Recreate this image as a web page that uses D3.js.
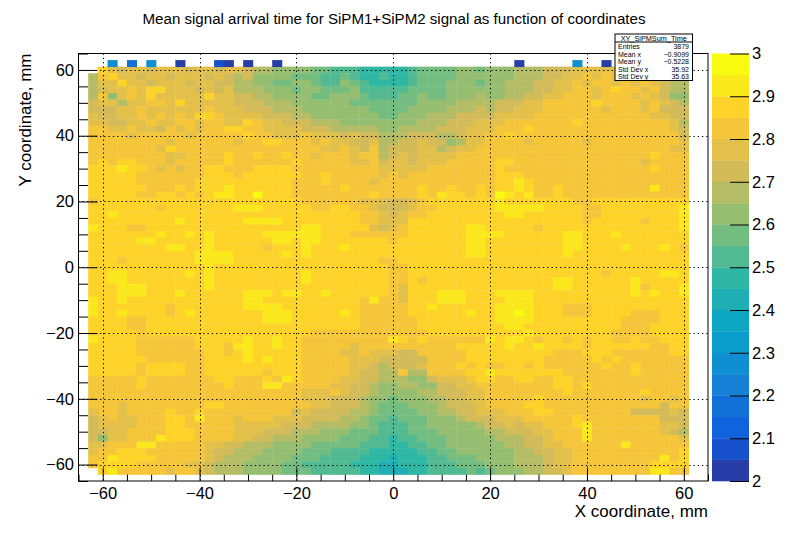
<!DOCTYPE html>
<html>
<head>
<meta charset="utf-8">
<script src="https://cdn.jsdelivr.net/npm/d3@7"></script>
<style>
  body { margin: 0; background: #fff; }
  text { font-family: "Liberation Sans", Arial, Helvetica, sans-serif; fill: #000; }
</style>
</head>
<body>
<script>
// ---- histogram data ----
var histName = "XY_SiPMSum_Time";
var statLabels = ["Entries", "Mean x", "Mean y", "Std Dev x", "Std Dev y"];
var statValues = ["3879", "\u22120.9099", "\u22120.5228", "35.92", "35.63"];

var xTicks = [-60, -40, -20, 0, 20, 40, 60];
var yTicks = [-60, -40, -20, 0, 20, 40, 60];
var zTicks = [2, 2.1, 2.2, 2.3, 2.4, 2.5, 2.6, 2.7, 2.8, 2.9, 3];

// binning of the histogram (2 mm bins, first bin centre / last row centre)
var binSize = 2;
var xFirstBin = -62;
var yFirstBin = 60;
var zMin = 2, zMax = 3, zStep = 0.05;

// each letter = colour band (a = 2.00-2.05 ... t = 2.95-3.00), "." = empty bin
var bandCodes = "abcdefghijklmnopqrst";

// y = 60 ... 22
var topRows = [
  ".rpoppopppoppoppo nnmm mmll kkk jjj | jjk llll mmlm mmn nnooo pppppqpppppo",
  "nqrppoppopppopono mmmm lllk klkjjk | jjk llll mmmm mmn nnoop pqpqppqpppop",
  "npprppopppoppoonnmmllmmlkkmlkjj | jjklllmmmlmmnnnooppqpqqpqpqponn",
  "noppqprr pppopop nnnmmm lmmlllm kkk | kk llll mmmmmm nnn oo pp qq p q r qq p q o nn",
  "nqmpqpr ppppp rppoo nnmmmm llmmm lkk | kllmll mmmnmm nnoo ppqqq pqqq pqpomm",
  "oppnppqqpr ppppp ooonnn mmmmmm llll | lllmmmm nnnn ooo ppqqqqq rqqqq pqpon",
  "oooppqpppppp qppp ooonnn mmmmmmm ll | llmmmm nnnonoo ppp qqqqqq pqqq pq ooo",
  "pooppqpqpq prrq pppp ooonn mmmmmmm l | lmmm nnn oooo pppp qqqqqqqqqqqq ppoo",
  "ppooppqppqq pqqpp rqpp ooo nnn mmmmm | mmm nnn ooo ppp qqqqqqq r qqqqqqqqq pn",
  "qqppqppoqpqp qqrrqq pppp ooo nnnnn m | mnnnnooopppqqqr qqqqqqqqqqqqqq po",
  "qqqqpqqqqqp qqqqqrqq pppqppp opoon | nnooonnoppqqr qqqqqqqqqqqqqqqqq o",
  "qqqqqqqq p qqqqqq p qq rr qqq p q pp oo p n | noopoomnpp qqqq p qqqqq p qqqqqqqqq p",
  "qqqqqqqpr qqqqqqqqqqqqqqq ppqpoqn | oooppnopp qqqqqqqqqqqqqqqqqqqq pp",
  "qqqqqqqq pp qqqq r qq r qq r qq p qqq p qq n | opopppp qqqqqqqqqqqqqqqqqqqq rqqq",
  "qrqrr qqqp qqqqq r qqqqqq r qqqqq ppqo | ppopppqqqqqrr qqqqqqqqqqqqq pqqqq",
  "rrrsrrqpqpqqrrqqqrrrr qqqqqqqqq p | pppp qqqqqqq r qqqqqqqqqqqqqqq rqqq",
  "rrrrr qqqqqqq rrrqrrrrrr qqr qqqqq p | qp qqqqqqqqq rrr qqqqqqqqqqqqqqqqq",
  "rrrrr qqqqqq rrrrrrrrrr qqqrqqqqpq | qqqqqqqqqqq rrsr qqqqqqqqqqqqqqqq",
  "rrrrrr qqq rqrrrs rrrrrr qqqqq rqqqq | qqqrqqrqqrqrrsrqqr qqqqqqqqq sqqq",
  "rrrrr qqrrqrqrssrrtrrr qqqqqqqq rq | qqqrqsrrqrqtsrs qqr qqqqqqqqqqqqq"
];

// y = 20 ... -20
var midRows = [
  "q rrrrrrr rrrrrrr rrrrrrr qqqqqq ppp | oopq rrrrrrr s rrrrrrr qq rrrrrrrrrr",
  "rrrrrrr q rrrrrrr sss rrrrr qq rr qq p o | oopqq rrrrrr sssss rrrr qq rrrrrrrr s",
  "rrs rrrrr rrrrr rrrrr rrrrr rrrrr qqp | opqq rrrrrrrr ss rrrrrr qq rrrrrrrr s",
  "rrrrrrrrr s rrrrrr ssss rrrrrrrr qqp | pp rrrrrrrrr rrrrrrrrr q rrrrr q rrr s",
  "srrrqq rrrrrrrr rrrrrrrr ss rrrrr po | pq rrrrrr ss rrrrr q rrrrrrr rrrrrrr s",
  "rrrrrrr s rr s r s rrrrr ssssss rrr qqqq | qq rrrrrr ssss rrrrrr ss rrr s rrrrrrr",
  "rrrrr ss rrrrr s rrrrrr ss r ss rrrrrrr | q rrrrrrr ss rrrrrrrr ss rrrrrrrrrrr",
  "rrrrrrrr ss rr s rrrrr q rrr s rrr s rrrr | rrrrrrrr ss rrrrrrrr ss rrrr s rrr s r q",
  "rrrrrrrrrrr ssss rrrrr s r s rrrrrrrr | rrrrrrrr ss rrrrrrrr s rrrrrrrrrrrr",
  "rrrq rrrrrrr ssss rrrrr rrrrr rrrrr q | q rrrrrrrrrr rrrrrrrrrr rrrrrrrrrr",
  "rrrrrrrrrrrr s rrrrrrrrr rrrrrrrrr | qq rrrrrrrrrr rrrrrrrrrr rrrrrrrrr",
  "rrss rrrrrr s r s rrrrrrrrr s rrrrrrrr | qq rrrrrrrrrr rrrrrrrrrr q rrrrr ss r",
  "rrss rrrrrrrr s rrrrrrrrr s rrrrrrrr | qqrq rrrrrrrrrrrrr ss rrrrrr s rrrrr",
  "rrrsss rrrrrr s rrrrrrrrr rrrrrrrrr | qp rrrrrrrrrrrrrrr ss rrrrrr s q rrr s",
  "rrrsss rrr s rrrrrr sss r ss rr s rrrrrr | qp rrr sss rrr ssss rrrrrrrrrr s r s rr s",
  "srrs rrrrrrrrrrrr ss rrrrrrrrrr qsq | qp rrr sss rrrr sss rrrrrrrr rrrrrrrr",
  "s rrrrrrr q rrrrrrr ssss rrrrrrrr qqq | qq rr s rrrrrr ssss rrr qqq rrrrrrrrrr",
  "srrs rrrr q r s rrrrrrr sss rrrrr s r qqq | qq rrrrrr s rr ssts rrr qqq rrrr qqq rrr",
  "rrrr qq rrrrrrrrrrrr sss rrrrrrr qqq | qqq rrrrrrrr ssss rrrrrrrrr qqqq rrr",
  "rrrr qq rrrrrrrrrrr rrrrrrrrrrr qqq | qqq rrrrrrrrr ss rrrrrrrrrr qqq rrrr",
  "rrrrr q rrrrrrrrrrrrrrrrr qqqqqqqq | qqqq rrrrrrrrrr s rrrrrrrr qqqq rrrr"
];

// y = -22 ... -62
var bottomRows = [
  "s rrrr qqqqqq rrrrr s rr s rr qqqqqqqqq | srqr qqqqqq srssr qrrqrqrr qqrqq rrr",
  "rrrrr qqqqqq rrr q ss rr s rr qqqqq p qqq | qqqqqqq rrrrr s rr s rrrr q rrrrrr qq rr",
  "rrrrr qqqqqqq rr q r s rrrrr qqqq pp q pp | poo qqqqq rrrrrrrrr qqq rrr qqqqqq rr",
  "rrrrrr qqqqqq rrrr s r s rrr qqqqq ppp o | oooo qqqq rrrrrrrr qqqqq r q r qqqqqqq",
  "rrrrr q rrrr qq rrrrrrrrrr qqqqq pp o n | ooo p qqq r q r qq rr q r qqqqqq r qq r qqqqq",
  "rrrrr q rrrr qq rrrrrr q rrr qqqqq p oo n | nqnn qqqq rr s rrrrrrr qqqqqqq r qqqqq",
  "qqqqq r qqqqqqq rr qqq r q s r qqqq pp oo n | nnmm o ppp q rr qq rr qq rr qqqqqqqqqqqq",
  "qqqqq r qqqqqqqq r qqq ss qqqqq pp oo n m | mnnmm oo pp qqqqqqqq rr q r qqqqqqqqqq",
  "qqqqqqqqqqq qqqqqqqqqqq ppp q p oo n m | mmm nn ooo pp qqqqqqqq r qqqqqqq r qqqq",
  "qqqqqqqqqqq qqqqqqqqqqq ppp ooo n mm | lmmm nn oo pp qqqqq r qqqqqqqqqq p qq p q",
  "qqq p qqqqqqqq rr qqqqqqqqq pp ooo n m l | ll mmm n ooo p qqqq rr qqqqqqqqqqqq o qq",
  "p qq p qqqq r qq r qqqqqqqqq o p oooo nn m l | lll mm nn oo ppp qqq rr qqqqqqqq oooo p o",
  "o p q pp qqq rr q s qqq p qqq ppp oooo nn m ll | k lll mmm n ooo ppp qqqqq r qqqqqqqq ooo",
  "o pppp qqq rr qqqqq ppppp ooo nnnn mm l k | kk ll mmmmm n oo p o pp qqq r s qqqqqqq pp o",
  "oo pp qqqq rrr qqqq ppp ooo nnn mmm lll k | kk lll mmmmm nn ooo pp qqq s qqqqqqq p o n",
  "o m pp qqq s rrr qqqq pp oo nnn mmmm lll kk | j kk lll mmmmm nnn oo p qqq s qqqqqqqqq p",
  "pp qqq ss qqqqq pp oo nnn mmmm lllll kkk | jj kk ll mmmmmm nn oo pp qqqqqq s qqqqqq",
  "p qq rrr qqqqqq p oo nnn mmmm lll kkkk jj | jjj kk ll mmmmmm nn oo pp qqqqqqqqqqq r",
  "qq s rrrr qqqqq p o nnn mmmm lll kkkk jjj | i jjj kk lll mmmm nnn o pp qqqqqqqqq s q r",
  "q rrrr qqqqq pp o nnn mmmm ll kkkkk jjj i | i jjj kkk lll mmm nnn o pp qqqqqqqq rrrr",
  ". r s qqqqq p qq p o nnn mmmm lll kkkkk jj i | ii jj kkkk l k l mmm nn oo p qqqqqqqq ss qq"
];

// sparse row above the main block (y = 62)
var sparseX = [-58, -54, -50, -44, -36, -34, -30, -24, 26, 38, 44];
var sparseZ = [2.27, 2.17, 2.27, 2.02, 2.08, 2.02, 2.02, 2.02, 2.02, 2.27, 2.02];

// ---- layout ----
var svgWidth = 787, svgHeight = 534;
var frame = { left: 78.5, right: 708, top: 53.5, bottom: 481 };
var paletteBox = { left: 712, right: 749 };
var fontFamily = '"Liberation Sans", Arial, Helvetica, sans-serif';

var svg = d3.select("body").append("svg")
  .attr("width", svgWidth)
  .attr("height", svgHeight);

var x = d3.scaleLinear().domain([-65, 65]).range([frame.left, frame.right]);
var y = d3.scaleLinear().domain([-65, 65]).range([frame.bottom, frame.top]);
var zScale = d3.scaleLinear().domain([zMin, zMax]).range([frame.bottom, frame.top]);

// ROOT kBird palette, 20 contour bands
var birdStops = ["#352a87", "#0f5cdd", "#1481d6", "#06a4ca", "#2eb7a4",
                 "#87bf77", "#d1bb59", "#fec832", "#f9fb0e"];
var bird = d3.scaleLinear()
  .domain(d3.range(birdStops.length).map(function(i) { return i / (birdStops.length - 1); }))
  .range(birdStops)
  .interpolate(d3.interpolateRgb);
var nBands = Math.round((zMax - zMin) / zStep);
function bandColor(band) {
  return bird(Math.floor((band + 0.99) * 255 / nBands) / 254);
}
function zColor(z) {
  var band = Math.floor((z - zMin) / zStep + 1e-6);
  band = Math.max(0, Math.min(nBands - 1, band));
  return bandColor(band);
}

// build cells
var cells = [];
topRows.concat(midRows, bottomRows).forEach(function(row, r) {
  var codes = row.replace(/[ |]/g, "");
  codes.split("").forEach(function(ch, c) {
    var k = bandCodes.indexOf(ch);
    if (k < 0) return;
    cells.push({ x: xFirstBin + c * binSize, y: yFirstBin - r * binSize, z: zMin + (k + 0.5) * zStep });
  });
});
sparseX.forEach(function(xv, i) {
  cells.push({ x: xv, y: yFirstBin + binSize, z: sparseZ[i] });
});

// heat map
svg.append("g")
  .selectAll("rect")
  .data(cells)
  .enter()
  .append("rect")
  .attr("x", function(d) { return x(d.x - binSize / 2); })
  .attr("y", function(d) { return y(d.y + binSize / 2); })
  .attr("width", function(d) { return x(d.x + binSize / 2) - x(d.x - binSize / 2) + 0.4; })
  .attr("height", function(d) { return y(d.y - binSize / 2) - y(d.y + binSize / 2) + 0.4; })
  .attr("fill", function(d) { return zColor(d.z); });

// dotted grid
var grid = svg.append("g")
  .attr("stroke", "#000")
  .attr("stroke-width", 1)
  .attr("stroke-dasharray", "1.3,3");
grid.selectAll("line.gx").data(xTicks).enter().append("line")
  .attr("x1", function(d) { return Math.round(x(d)) + 0.5; })
  .attr("x2", function(d) { return Math.round(x(d)) + 0.5; })
  .attr("y1", frame.top).attr("y2", frame.bottom);
grid.selectAll("line.gy").data(yTicks).enter().append("line")
  .attr("y1", function(d) { return Math.round(y(d)) + 0.5; })
  .attr("y2", function(d) { return Math.round(y(d)) + 0.5; })
  .attr("x1", frame.left).attr("x2", frame.right);

// frame
svg.append("rect")
  .attr("x", frame.left).attr("y", frame.top)
  .attr("width", frame.right - frame.left).attr("height", frame.bottom - frame.top)
  .attr("fill", "none").attr("stroke", "#000").attr("stroke-width", 1);

function minus(d) { return d < 0 ? "\u2212" + Math.abs(d) : String(d); }
var minorTicks = d3.range(-65, 66, 5).filter(function(v) { return v % 20 !== 0; });

function styleAxis(g, size) {
  g.select(".domain").remove();
  g.attr("font-family", fontFamily).attr("font-size", size).attr("color", "#000");
  g.selectAll("line").attr("stroke-width", 1);
}

// x axis
svg.append("g")
  .attr("transform", "translate(0," + frame.bottom + ")")
  .call(d3.axisBottom(x).tickValues(xTicks).tickSize(-12.8).tickPadding(6).tickFormat(minus))
  .call(styleAxis, 16.5);
svg.append("g")
  .attr("transform", "translate(0," + frame.bottom + ")")
  .call(d3.axisBottom(x).tickValues(minorTicks).tickSize(-6.4).tickFormat(""))
  .call(styleAxis, 16.5);

// y axis
svg.append("g")
  .attr("transform", "translate(" + frame.left + ",0)")
  .call(d3.axisLeft(y).tickValues(yTicks).tickSize(-18.9).tickPadding(4.5).tickFormat(minus))
  .call(styleAxis, 16.5);
svg.append("g")
  .attr("transform", "translate(" + frame.left + ",0)")
  .call(d3.axisLeft(y).tickValues(minorTicks).tickSize(-9.5).tickFormat(""))
  .call(styleAxis, 16.5);

// axis titles
svg.append("text")
  .attr("x", frame.right).attr("y", 517)
  .attr("text-anchor", "end")
  .attr("font-size", 17)
  .text("X coordinate, mm");
svg.append("text")
  .attr("transform", "translate(31," + frame.top + ") rotate(-90)")
  .attr("text-anchor", "end")
  .attr("font-size", 17)
  .text("Y coordinate, mm");

// title
svg.append("text")
  .attr("x", 394).attr("y", 24)
  .attr("text-anchor", "middle")
  .attr("font-size", 15.1)
  .text("Mean signal arrival time for SiPM1+SiPM2 signal as function of coordinates");

// colour palette
var bands = d3.range(nBands);
svg.append("g")
  .selectAll("rect")
  .data(bands)
  .enter()
  .append("rect")
  .attr("x", paletteBox.left)
  .attr("width", paletteBox.right - paletteBox.left)
  .attr("y", function(b) { return zScale(zMin + (b + 1) * zStep); })
  .attr("height", function(b) { return zScale(zMin + b * zStep) - zScale(zMin + (b + 1) * zStep) + 0.3; })
  .attr("fill", function(b) { return bandColor(b); });

svg.append("g")
  .attr("transform", "translate(" + paletteBox.right + ",0)")
  .call(d3.axisRight(zScale).tickValues(zTicks).tickSize(-19).tickPadding(3)
    .tickFormat(function(d) { return String(+d.toFixed(1)); }))
  .call(styleAxis, 16.5);

// stats box
var stats = svg.append("g").attr("transform", "translate(615,34)");
stats.append("rect")
  .attr("width", 77.5).attr("height", 46.5)
  .attr("fill", "#fff").attr("stroke", "#000").attr("stroke-width", 1);
stats.append("line")
  .attr("x1", 0).attr("x2", 77.5).attr("y1", 8).attr("y2", 8)
  .attr("stroke", "#000").attr("stroke-width", 1);
stats.append("text")
  .attr("x", 38.75).attr("y", 6.6)
  .attr("text-anchor", "middle").attr("font-size", 7.3)
  .text(histName);
statLabels.forEach(function(lab, i) {
  stats.append("text")
    .attr("x", 3).attr("y", 15.3 + i * 7.4)
    .attr("font-size", 7)
    .text(lab);
  stats.append("text")
    .attr("x", 74).attr("y", 15.3 + i * 7.4)
    .attr("text-anchor", "end").attr("font-size", 7)
    .text(statValues[i]);
});
</script>
</body>
</html>
